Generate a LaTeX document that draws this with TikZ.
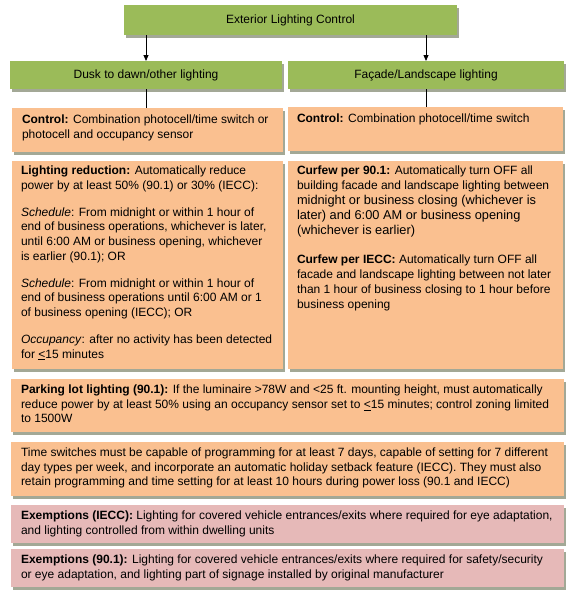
\documentclass[tikz,border=0pt]{standalone}
\usepackage{fontspec}
\setmainfont{Liberation Sans}
\usetikzlibrary{shadows,arrows.meta,fit}
\definecolor{grn}{HTML}{9BBB59}
\definecolor{org}{HTML}{FAC090}
\definecolor{pnk}{HTML}{E6B9B8}
\definecolor{shd}{HTML}{A3A896}
\begin{document}
\begin{tikzpicture}[x=1pt,y=-1pt,
  boxbase/.style={inner sep=0pt, outer sep=0pt, draw=none,
    drop shadow={shadow xshift=1.5pt, shadow yshift=-2.5pt, fill=shd, opacity=1}},
  gbox/.style={boxbase, fill=grn},
  obox/.style={boxbase, fill=org},
  pbox/.style={boxbase, fill=pnk},
  txt/.style={inner sep=0pt, outer sep=0pt, align=left, anchor=north west,
    font=\fontsize{12}{14.6}\selectfont},
  ctxt/.style={inner sep=0pt, font=\fontsize{12}{14.6}\selectfont},
  conn/.style={draw=black, line width=0.8pt},
  arr/.style={conn, -{Triangle[length=6pt,width=5pt]}}]
\useasboundingbox (0,0) rectangle (575,597);

% green boxes
\node[gbox, fit={(124,5) (457,35)}] (top) {};
\node[ctxt] (topT) at (top.center) {Exterior Lighting Control};
\node[gbox, fit={(10,61) (282,89)}] (dusk) {};
\node[ctxt] (duskT) at (dusk.center) {Dusk to dawn/other lighting};
\node[gbox, fit={(288,61) (564,89)}] (fac) {};
\node[ctxt] (facT) at (fac.center) {Façade/Landscape lighting};

% control boxes
\node[obox, fit={(12,108) (283,152)}] (ctlL) {};
\node[txt] (ctlLT) at ([xshift=10pt,yshift=-7pt]ctlL.north west)
  {\textbf{Control:} Combination photocell/time switch or\\photocell and occupancy sensor};
\node[obox, fit={(288,107) (563,151)}] (ctlR) {};
\node[txt] (ctlRT) at ([xshift=9pt,yshift=-7pt]ctlR.north west)
  {\textbf{Control:} Combination photocell/time switch};

% big boxes
\node[obox, fit={(12,161) (283,369)}] (redL) {};
\node[txt] (redLT) at ([xshift=9pt,yshift=-5pt]redL.north west)
  {\textbf{Lighting reduction:} Automatically reduce\\
   power by at least 50\% (90.1) or 30\% (IECC):\\[12.5pt]
   \textit{Schedule}: From midnight or within 1 hour of\\
   end of business operations, whichever is later,\\
   until 6:00 AM or business opening, whichever\\
   is earlier (90.1); OR\\[12.5pt]
   \textit{Schedule}: From midnight or within 1 hour of\\
   end of business operations until 6:00 AM or 1\\
   of business opening (IECC); OR\\[12.5pt]
   \textit{Occupancy}: after no activity has been detected\\
   for \underline{<}15 minutes};
\node[obox, fit={(288,161) (563,369)}] (curR) {};
\node[txt, font=\fontsize{12}{15}\selectfont] (curRT) at ([xshift=9pt,yshift=-5pt]curR.north west)
  {\textbf{Curfew per 90.1:} Automatically turn OFF all\\
   building facade and landscape lighting between\\
   {\fontsize{12.8}{15}\selectfont midnight or business closing (whichever is}\\
   {\fontsize{12.8}{15}\selectfont later) and 6:00 AM or business opening}\\
   {\fontsize{12.8}{15}\selectfont (whichever is earlier)}\\[14pt]
   \textbf{Curfew per IECC:} Automatically turn OFF all\\
   facade and landscape lighting between not later\\
   than 1 hour of business closing to 1 hour before\\
   business opening};

% wide boxes
\node[obox, fit={(11,379) (564,432)}] (park) {};
\node[txt] (parkT) at ([xshift=10pt,yshift=-6pt]park.north west)
  {\textbf{Parking lot lighting (90.1):} If the luminaire >78W and <25 ft. mounting height, must automatically\\
   reduce power by at least 50\% using an occupancy sensor set to \underline{<}15 minutes; control zoning limited\\
   to 1500W};
\node[obox, fit={(11,442) (564,496)}] (tsw) {};
\node[txt] (tswT) at ([xshift=10pt,yshift=-6pt]tsw.north west)
  {Time switches must be capable of programming for at least 7 days, capable of setting for 7 different\\
   day types per week, and incorporate an automatic holiday setback feature (IECC). They must also\\
   retain programming and time setting for at least 10 hours during power loss (90.1 and IECC)};
\node[pbox, fit={(11,505) (564,543)}] (exI) {};
\node[txt] (exIT) at ([xshift=10pt,yshift=-6pt]exI.north west)
  {\textbf{Exemptions (IECC):} Lighting for covered vehicle entrances/exits where required for eye adaptation,\\
   and lighting controlled from within dwelling units};
\node[pbox, fit={(11,549) (564,587)}] (exN) {};
\node[txt] (exNT) at ([xshift=10pt,yshift=-6pt]exN.north west)
  {\textbf{Exemptions (90.1):} Lighting for covered vehicle entrances/exits where required for safety/security\\
   or eye adaptation, and lighting part of signage installed by original manufacturer};

% connectors
\draw[arr] (top.south -| dusk.north) -- (dusk.north);
\draw[arr] (top.south -| fac.north) -- (fac.north);
\draw[conn] (dusk.south) -- (dusk.south |- ctlL.north);
\draw[conn] (fac.south) -- (fac.south |- ctlR.north);
\end{tikzpicture}
\end{document}
